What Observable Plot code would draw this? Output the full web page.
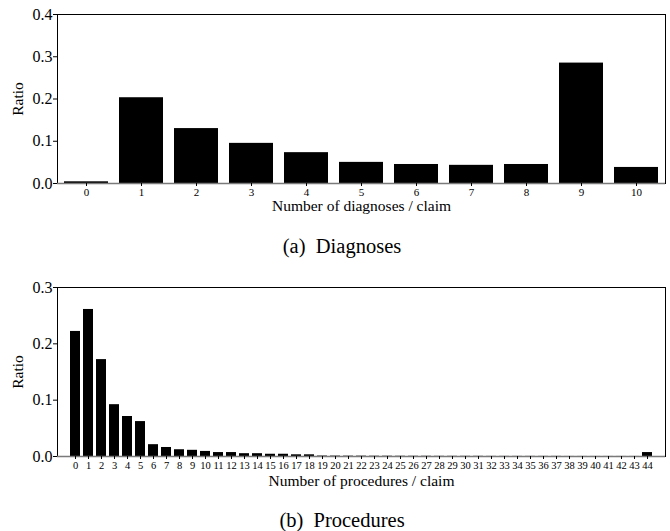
<!DOCTYPE html>
<html>
<head>
<meta charset="utf-8">
<script src="https://cdn.jsdelivr.net/npm/d3@7"></script>
<script src="https://cdn.jsdelivr.net/npm/@observablehq/plot@0.6"></script>
<style>
  html, body { margin: 0; padding: 0; background: white; }
  #wrap { position: relative; width: 670px; height: 531px; font-family: "Liberation Serif", "DejaVu Serif", serif; color: black; }
  .panel { position: absolute; left: 0; }
  .cap { position: absolute; width: 400px; text-align: center; font-size: 20.5px; line-height: 22px; white-space: pre; }
  svg text { font-family: "Liberation Serif", "DejaVu Serif", serif !important; }
</style>
</head>
<body>
<div id="wrap">
  <div class="panel" id="p1" style="top:0px"></div>
  <div class="cap" style="left:142px; top:235px">(a)  Diagnoses</div>
  <div class="panel" id="p2" style="top:270px"></div>
  <div class="cap" style="left:142px; top:509px">(b)  Procedures</div>
</div>
<script>
// Diagnoses per claim
const diagCounts = ["0","1","2","3","4","5","6","7","8","9","10"];
const diagRatio  = [0.004, 0.203, 0.130, 0.095, 0.073, 0.050, 0.045, 0.043, 0.045, 0.285, 0.038];
const diagTicks  = [0, 0.1, 0.2, 0.3, 0.4];

// Procedures per claim
const procCounts = ["0","1","2","3","4","5","6","7","8","9","10","11","12","13","14","15","16","17","18","19","20","21","22","23","24","25","26","27","28","29","30","31","32","33","34","35","36","37","38","39","40","41","42","43","44"];
const procRatio  = [0.222, 0.261, 0.172, 0.092, 0.071, 0.062, 0.021, 0.016, 0.012, 0.011, 0.009, 0.007, 0.007, 0.005, 0.005, 0.004, 0.004, 0.003, 0.003,
                    0.0008, 0.0007, 0.0006, 0.0006, 0.0005, 0.0005, 0.0004, 0.0004, 0.0004, 0.0003, 0.0003, 0.0003, 0.0003, 0.0002, 0.0002, 0.0002, 0.0002, 0.0002, 0.0002, 0.0001, 0.0001, 0.0001, 0.0001, 0.0001, 0.0001,
                    0.007];
const procTicks  = [0, 0.1, 0.2, 0.3];

const diagData = diagCounts.map((c, i) => ({c, v: diagRatio[i]}));
const procData = procCounts.map((c, i) => ({c, v: procRatio[i]}));

const FONT = '"Liberation Serif", "DejaVu Serif", serif';

function panel({data, domain, yMax, yTicks, xLabel, height, marginTop, marginBottom, padOuter, xFont, xLabelDy}) {
  return Plot.plot({
    width: 670, height, marginTop, marginBottom, marginLeft: 57, marginRight: 5,
    style: {fontFamily: FONT, color: "black", background: "white", overflow: "visible"},
    x: {type: "band", domain, paddingInner: 0.2, paddingOuter: padOuter, axis: null},
    y: {domain: [0, yMax], axis: null},
    marks: [
      Plot.barY(data, {x: "c", y: "v", fill: "black"}),
      Plot.frame({stroke: "black", strokeWidth: 1}),
      Plot.ruleY([0], {stroke: "#7a7a7a", strokeWidth: 1.3}),
      Plot.axisY(yTicks, {tickFormat: d3.format(".1f"), tickSize: 4, tickPadding: 1, fontSize: 16, stroke: "black", label: null}),
      Plot.axisX(domain, {tickSize: 3, tickPadding: 2, fontSize: xFont, stroke: "black", label: null}),
      Plot.text([xLabel], {frameAnchor: "bottom", dy: xLabelDy, lineAnchor: "middle", fontSize: 15.5, fill: "black"}),
      Plot.text(["Ratio"], {frameAnchor: "left", dx: -39, rotate: -90, lineAnchor: "middle", textAnchor: "middle", fontSize: 15.5, fill: "black"})
    ]
  });
}

document.getElementById("p1").appendChild(panel({
  data: diagData, domain: diagCounts, yMax: 0.4, yTicks: diagTicks,
  xLabel: "Number of diagnoses / claim", height: 220, marginTop: 14, marginBottom: 37,
  padOuter: 0.1, xFont: 11, xLabelDy: 23
}));
document.getElementById("p2").appendChild(panel({
  data: procData, domain: procCounts, yMax: 0.3, yTicks: procTicks,
  xLabel: "Number of procedures / claim", height: 225, marginTop: 17, marginBottom: 39,
  padOuter: 0.15, xFont: 10.5, xLabelDy: 25
}));
</script>
</body>
</html>
